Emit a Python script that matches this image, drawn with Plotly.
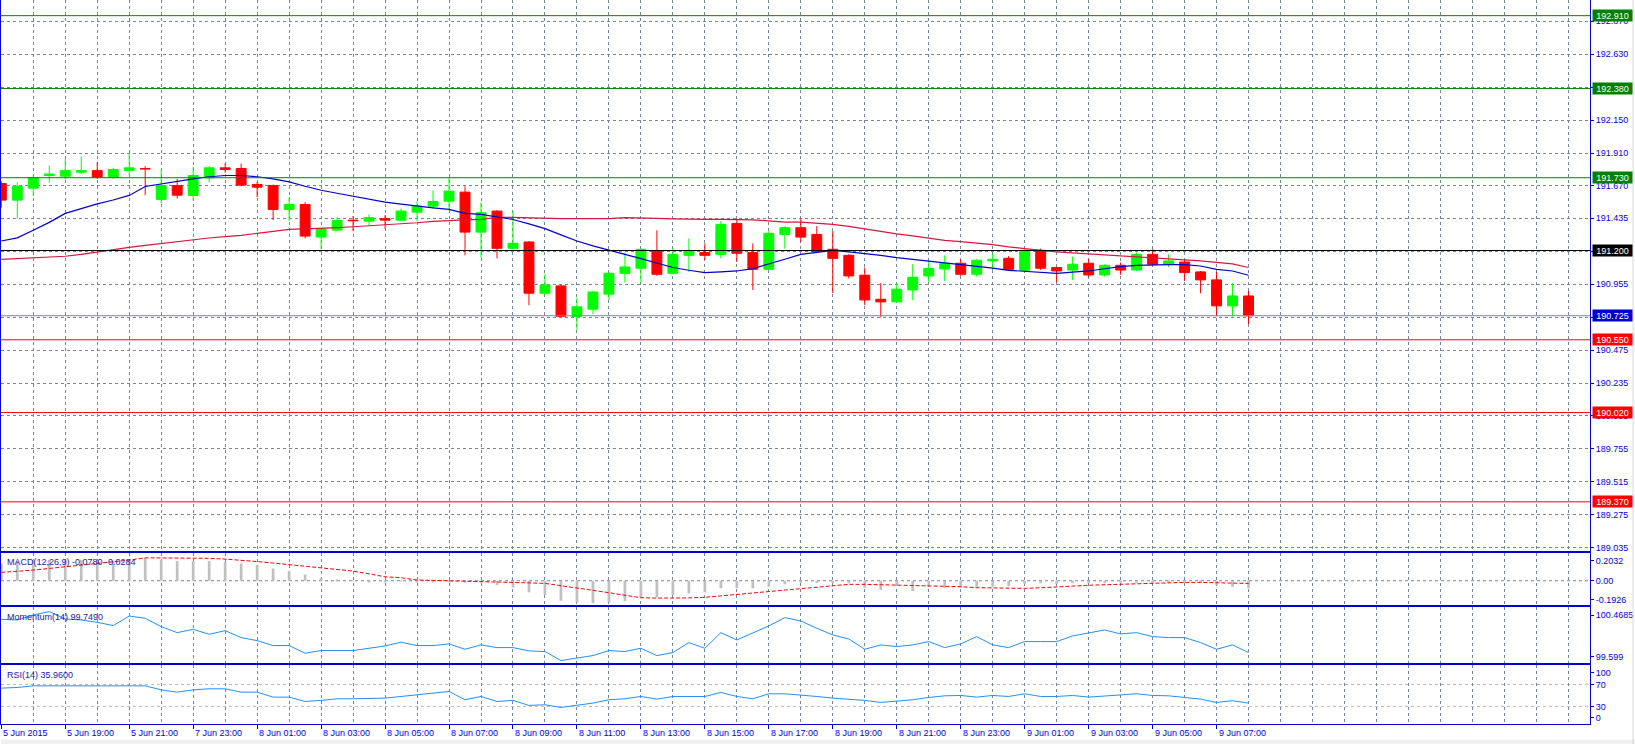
import plotly.graph_objects as go

# ---------------- data ----------------
opens = [191.688, 191.567, 191.654, 191.746, 191.741, 191.770, 191.782, 191.734, 191.784, 191.797,
         191.572, 191.673, 191.601, 191.729, 191.802, 191.797, 191.681, 191.673, 191.499, 191.535,
         191.298, 191.349, 191.421, 191.414, 191.432, 191.421, 191.479, 191.523, 191.559, 191.625,
         191.334, 191.487, 191.216, 191.262, 190.889, 190.942, 190.720, 190.773, 190.882, 191.034,
         191.071, 191.196, 191.034, 191.165, 191.185, 191.172, 191.397, 191.185, 191.063, 191.317,
         191.366, 191.317, 191.209, 191.165, 191.020, 190.845, 190.826, 190.913, 191.015, 191.066,
         191.107, 191.027, 191.124, 191.143, 191.056, 191.201, 191.076, 191.058, 191.107, 191.022,
         191.092, 191.058, 191.172, 191.100, 191.116, 191.044, 190.986, 190.797, 190.869]
highs = [191.705, 191.697, 191.746, 191.819, 191.869, 191.886, 191.843, 191.802, 191.911, 191.814,
         191.790, 191.722, 191.809, 191.814, 191.833, 191.833, 191.700, 191.680, 191.591, 191.552,
         191.366, 191.443, 191.450, 191.463, 191.458, 191.506, 191.559, 191.637, 191.729, 191.668,
         191.548, 191.494, 191.487, 191.269, 191.032, 190.954, 190.858, 190.906, 191.042, 191.185,
         191.216, 191.347, 191.221, 191.288, 191.252, 191.414, 191.432, 191.252, 191.341, 191.376,
         191.432, 191.378, 191.341, 191.172, 191.076, 190.962, 190.962, 191.100, 191.124, 191.165,
         191.136, 191.136, 191.180, 191.160, 191.209, 191.214, 191.082, 191.156, 191.136, 191.100,
         191.112, 191.185, 191.209, 191.172, 191.136, 191.051, 191.044, 190.962, 190.906]
lows = [191.511, 191.432, 191.596, 191.693, 191.717, 191.758, 191.722, 191.722, 191.748, 191.603,
        191.543, 191.579, 191.564, 191.697, 191.766, 191.668, 191.588, 191.421, 191.414, 191.288,
        191.209, 191.341, 191.341, 191.383, 191.359, 191.414, 191.414, 191.506, 191.499, 191.165,
        191.148, 191.143, 191.209, 190.802, 190.875, 190.715, 190.623, 190.737, 190.840, 190.967,
        190.962, 191.015, 191.027, 191.044, 191.131, 191.143, 191.116, 190.913, 191.058, 191.214,
        191.262, 191.187, 190.889, 190.996, 190.802, 190.713, 190.826, 190.840, 190.969, 190.978,
        191.015, 191.010, 191.058, 191.056, 191.051, 191.058, 190.967, 190.986, 191.007, 191.010,
        191.022, 191.051, 191.092, 191.080, 190.978, 190.889, 190.720, 190.720, 190.664]
closes = [191.567, 191.668, 191.729, 191.757, 191.782, 191.782, 191.734, 191.790, 191.802, 191.793,
          191.673, 191.603, 191.746, 191.802, 191.790, 191.676, 191.661, 191.499, 191.535, 191.305,
          191.359, 191.419, 191.416, 191.439, 191.421, 191.487, 191.523, 191.557, 191.632, 191.334,
          191.475, 191.216, 191.252, 190.889, 190.949, 190.720, 190.790, 190.898, 191.034, 191.080,
          191.209, 191.027, 191.172, 191.196, 191.165, 191.390, 191.180, 191.063, 191.325, 191.366,
          191.298, 191.192, 191.143, 191.015, 190.840, 190.826, 190.918, 191.005, 191.069, 191.107,
          191.027, 191.129, 191.136, 191.063, 191.201, 191.071, 191.051, 191.100, 191.022, 191.092,
          191.058, 191.172, 191.100, 191.124, 191.039, 190.986, 190.797, 190.869, 190.725]

ma_fast = [191.269, 191.292, 191.347, 191.405, 191.470, 191.506, 191.539, 191.568, 191.601, 191.666,
           191.686, 191.705, 191.722, 191.737, 191.746, 191.746, 191.737, 191.722, 191.700, 191.668,
           191.639, 191.617, 191.596, 191.574, 191.552, 191.538, 191.523, 191.511, 191.499, 191.470,
           191.463, 191.445, 191.426, 191.394, 191.359, 191.314, 191.269, 191.234, 191.201, 191.172,
           191.141, 191.107, 191.076, 191.056, 191.039, 191.045, 191.051, 191.068, 191.100, 191.136,
           191.172, 191.187, 191.201, 191.190, 191.180, 191.165, 191.148, 191.136, 191.124, 191.112,
           191.100, 191.087, 191.071, 191.056, 191.047, 191.039, 191.034, 191.042, 191.051, 191.067,
           191.083, 191.092, 191.097, 191.097, 191.097, 191.087, 191.063, 191.051, 191.020]
ma_slow = [191.136, 191.142, 191.148, 191.152, 191.158, 191.172, 191.190, 191.209, 191.223, 191.238,
           191.252, 191.267, 191.281, 191.291, 191.301, 191.310, 191.325, 191.339, 191.354, 191.357,
           191.359, 191.366, 191.373, 191.379, 191.385, 191.394, 191.402, 191.412, 191.419, 191.423,
           191.426, 191.441, 191.441, 191.437, 191.432, 191.432, 191.432, 191.432, 191.432, 191.439,
           191.439, 191.434, 191.430, 191.426, 191.426, 191.426, 191.426, 191.423, 191.416, 191.407,
           191.407, 191.401, 191.390, 191.376, 191.357, 191.339, 191.321, 191.307, 191.291, 191.274,
           191.265, 191.256, 191.243, 191.227, 191.212, 191.201, 191.190, 191.183, 191.172, 191.165,
           191.160, 191.154, 191.148, 191.141, 191.132, 191.124, 191.114, 191.103, 191.076]

macd_hist = [0.176, 0.20, 0.21, 0.21, 0.21, 0.21, 0.206, 0.203, 0.203, 0.23,
             0.21, 0.20, 0.20, 0.20, 0.193, 0.176, 0.159, 0.125, 0.10, 0.064,
             0.03, 0.007, 0.002, -0.01, -0.017, -0.005, -0.01, -0.01, -0.01, -0.02,
             -0.01, -0.044, -0.068, -0.118, -0.146, -0.203, -0.22, -0.23, -0.22, -0.206,
             -0.179, -0.169, -0.146, -0.129, -0.118, -0.078, -0.078, -0.078, -0.061, -0.037,
             -0.02, -0.024, -0.027, -0.027, -0.071, -0.095, -0.051, -0.105, -0.061, -0.078,
             -0.071, -0.061, -0.061, -0.054, -0.034, -0.027, -0.034, -0.027, -0.027, -0.027,
             -0.02, -0.02, -0.02, -0.01, -0.01, -0.01, -0.044, -0.061, -0.078]
macd_signal = [0.085, 0.095, 0.108, 0.125, 0.142, 0.16, 0.176, 0.19, 0.21, 0.233,
               0.233, 0.233, 0.233, 0.228, 0.22, 0.21, 0.195, 0.18, 0.165, 0.15,
               0.135, 0.115, 0.098, 0.07, 0.04, 0.03, 0.007, 0.003, 0.0, -0.005,
               -0.01, -0.014, -0.017, -0.022, -0.027, -0.05, -0.071, -0.095, -0.122, -0.148,
               -0.173, -0.177, -0.179, -0.175, -0.169, -0.155, -0.139, -0.125, -0.112, -0.095,
               -0.078, -0.065, -0.051, -0.037, -0.037, -0.04, -0.043, -0.046, -0.048, -0.051,
               -0.061, -0.071, -0.075, -0.078, -0.078, -0.072, -0.066, -0.055, -0.046, -0.04,
               -0.035, -0.031, -0.027, -0.022, -0.017, -0.017, -0.02, -0.02, -0.028]
momentum = [100.379, 100.365, 100.469, 100.539, 100.386, 100.365, 100.316, 100.247, 100.448, 100.400,
            100.226, 100.100, 100.170, 100.066, 100.142, 99.996, 99.933, 99.829, 99.829, 99.669,
            99.725, 99.725, 99.725, 99.773, 99.822, 99.899, 99.829, 99.829, 99.864, 99.752,
            99.843, 99.787, 99.787, 99.718, 99.704, 99.516, 99.565, 99.620, 99.725, 99.704,
            99.773, 99.620, 99.683, 99.892, 99.773, 100.100, 99.947, 100.087, 100.240, 100.414,
            100.344, 100.191, 100.052, 99.968, 99.752, 99.843, 99.808, 99.843, 99.913, 99.787,
            99.864, 100.017, 99.843, 99.787, 99.913, 99.913, 99.913, 100.031, 100.087, 100.156,
            100.073, 100.100, 100.017, 99.996, 99.996, 99.892, 99.752, 99.843, 99.683]
rsi = [63.3, 64.5, 67.5, 67.5, 67.5, 67.5, 67.5, 67.5, 67.5, 67.5,
       60.2, 56.0, 60.2, 62.1, 62.1, 56.0, 56.0, 46.9, 46.9, 39.0,
       40.9, 43.9, 43.9, 43.9, 45.1, 48.1, 51.2, 53.0, 57.2, 42.1,
       48.1, 39.0, 40.9, 31.8, 33.0, 28.1, 31.8, 36.0, 42.1, 43.9,
       48.1, 43.3, 48.1, 48.1, 48.1, 55.4, 48.1, 43.9, 53.0, 53.0,
       51.2, 48.1, 45.1, 43.3, 40.9, 37.2, 39.0, 42.1, 46.3, 49.3,
       49.9, 46.9, 49.9, 48.1, 53.0, 48.1, 48.1, 49.9, 46.9, 49.3,
       51.2, 53.0, 49.9, 49.3, 46.3, 43.3, 37.2, 40.3, 36.0]

time_labels = ["5 Jun 2015", "5 Jun 19:00", "5 Jun 21:00", "7 Jun 23:00", "8 Jun 01:00",
               "8 Jun 03:00", "8 Jun 05:00", "8 Jun 07:00", "8 Jun 09:00", "8 Jun 11:00",
               "8 Jun 13:00", "8 Jun 15:00", "8 Jun 17:00", "8 Jun 19:00", "8 Jun 21:00",
               "8 Jun 23:00", "9 Jun 01:00", "9 Jun 03:00", "9 Jun 05:00", "9 Jun 07:00"]
label_every = 4

price_ticks = [189.035, 189.275, 189.515, 189.755, 189.995, 190.235, 190.475, 190.715, 190.955,
               191.195, 191.435, 191.670, 191.910, 192.150, 192.390, 192.630, 192.870]

# horizontal levels: (price, line colour, label box colour)
levels = [(192.910, "#008000", "#008000"), (192.380, "#008000", "#008000"),
          (191.730, "#008000", "#008000"), (191.200, "#000000", "#000000"),
          (190.725, "#7b8794", "#0000cd"), (190.550, "#ff0000", "#ff0000"),
          (190.020, "#ff0000", "#ff0000"), (189.370, "#ff0000", "#ff0000")]

# ---------------- style ----------------
W, H = 1635, 746
BLUE = "#0000d0"
TXT = "#0000e0"
GRID = "#74849a"
FONT = "Liberation Sans"
FS = 9
XD = 1590 / W


def py(px):
    return 1 - px / H


n = len(opens)
idx = list(range(n))

fig = go.Figure()

# candle wicks and bodies
for up, col in ((True, "#00ff00"), (False, "#ff0000")):
    sel = [i for i in idx if (closes[i] >= opens[i]) == up]
    wx, wy = [], []
    for i in sel:
        wx += [i, i, None]
        wy += [lows[i], highs[i], None]
    fig.add_trace(go.Scatter(x=wx, y=wy, mode="lines", line=dict(color=col, width=1),
                             xaxis="x", yaxis="y", hoverinfo="skip"))
    fig.add_trace(go.Bar(x=sel, y=[abs(closes[i] - opens[i]) for i in sel],
                         base=[min(opens[i], closes[i]) for i in sel], width=0.62,
                         marker=dict(color=col, line=dict(color=col, width=1)),
                         xaxis="x", yaxis="y", hoverinfo="skip"))

fig.add_trace(go.Scatter(x=idx, y=ma_slow, mode="lines", line=dict(color="#dc143c", width=1.2),
                         xaxis="x", yaxis="y", hoverinfo="skip"))
fig.add_trace(go.Scatter(x=idx, y=ma_fast, mode="lines", line=dict(color="#0000cd", width=1.2),
                         xaxis="x", yaxis="y", hoverinfo="skip"))

# MACD
fig.add_trace(go.Bar(x=idx, y=macd_hist, width=0.17, marker=dict(color="#c0c0c0", line=dict(width=0)),
                     xaxis="x2", yaxis="y2", hoverinfo="skip"))
fig.add_trace(go.Scatter(x=idx, y=macd_signal, mode="lines",
                         line=dict(color="#ff0000", width=1, dash="4px,2px"),
                         xaxis="x2", yaxis="y2", hoverinfo="skip"))
# Momentum
fig.add_trace(go.Scatter(x=idx, y=momentum, mode="lines", line=dict(color="#1e90ff", width=1),
                         xaxis="x3", yaxis="y3", hoverinfo="skip"))
# RSI
fig.add_trace(go.Scatter(x=idx, y=rsi, mode="lines", line=dict(color="#1e90ff", width=1),
                         xaxis="x4", yaxis="y4", hoverinfo="skip"))

xrange = [-0.3 / 16, (1590 - 0.3) / 16]
grid_vals = list(range(0, 100, 2))
lab_vals = [k * label_every for k in range(len(time_labels))]


def xax(anchor, bottom=False, mirror=True):
    d = dict(domain=[0, XD], range=xrange, anchor=anchor, showline=True, linecolor=BLUE,
             linewidth=1, mirror=mirror, zeroline=False, showticklabels=False,
             tickmode="array", tickvals=grid_vals, showgrid=True, gridcolor=GRID,
             griddash="3px,3px", gridwidth=1, ticks="")
    if anchor != "y":
        d["matches"] = "x"
    if bottom:
        d.update(tickvals=lab_vals, ticks="outside", ticklen=4, tickcolor=BLUE,
                 minor=dict(tickmode="array", tickvals=grid_vals, showgrid=True,
                            gridcolor=GRID, griddash="3px,3px", gridwidth=1, ticks=""))
    return d


def yax(anchor, dom, rng, tv, tt, grid=False):
    return dict(domain=dom, range=rng, anchor=anchor, side="right", showline=True,
                linecolor=BLUE, linewidth=1, mirror=True, zeroline=False,
                tickmode="array", tickvals=tv, ticktext=tt, ticks="outside", ticklen=3,
                tickcolor=BLUE, tickfont=dict(family=FONT, size=FS, color=TXT),
                showgrid=grid, gridcolor=GRID, griddash="3px,3px", gridwidth=1)


layout = dict(
    width=W, height=H, margin=dict(l=0, r=0, t=0, b=0),
    paper_bgcolor="white", plot_bgcolor="white", showlegend=False,
    barmode="overlay", hovermode=False,
    xaxis=xax("y", mirror=False), xaxis2=xax("y2"), xaxis3=xax("y3"),
    xaxis4=xax("y4", bottom=True),
    yaxis=yax("x", [py(552), 1], [193.0241 - 552 * 0.0072622, 193.0241],
              price_ticks, ["%.3f" % v for v in price_ticks], grid=True),
    yaxis2=yax("x2", [py(607), py(554)], [-0.251, 0.287], [-0.1926, 0, 0.2032],
               ["-0.1926", "0.00", "0.2032"]),
    yaxis3=yax("x3", [py(665), py(609)], [99.460, 100.629], [99.599, 100.4685],
               ["99.599", "100.4685"]),
    yaxis4=yax("x4", [py(726), py(667)], [-2.2, 105.1], [91.8, 70, 30, 10],
               ["100", "70", "30", "0"]),
)
fig.update_layout(**layout)

shapes = []
for price, lc, bc in levels:
    shapes.append(dict(type="line", xref="x domain", yref="y", x0=0, x1=1, y0=price, y1=price,
                       line=dict(color=lc, width=1), layer="above"))
shapes.append(dict(type="line", xref="x2 domain", yref="y2", x0=0, x1=1, y0=0, y1=0,
                   line=dict(color=GRID, width=1, dash="3px,3px"), layer="below"))
for lv in (70, 30):
    shapes.append(dict(type="line", xref="x4 domain", yref="y4", x0=0, x1=1, y0=lv, y1=lv,
                       line=dict(color="#b8b8b8", width=1, dash="3px,3px"), layer="below"))
# window frame
shapes.append(dict(type="rect", xref="paper", yref="paper", x0=0, x1=1, y0=0, y1=py(741.5),
                   fillcolor="#f0f0f0", line=dict(width=0)))
shapes.append(dict(type="line", xref="paper", yref="paper", x0=1633 / W, x1=1633 / W, y0=0, y1=1,
                   line=dict(color="#d8d8d8", width=1)))
fig.update_layout(shapes=shapes)

ann = []
for price, lc, bc in levels:
    ann.append(dict(xref="paper", yref="y", x=1591.5 / W, y=price, xanchor="left", yanchor="middle",
                    text="%.3f" % price, showarrow=False, bgcolor=bc, borderpad=1,
                    width=37, height=9, align="center",
                    font=dict(family=FONT, size=FS, color="white")))
for k, t in enumerate(time_labels):
    ann.append(dict(xref="x4", yref="paper", x=lab_vals[k], y=py(735), xanchor="left",
                    yanchor="middle", text=t, showarrow=False,
                    font=dict(family=FONT, size=FS, color=TXT)))
for t, ypx in (("MACD(12,26,9) -0.0780 -0.0284", 563.5), ("Momentum(14) 99.7490", 618.5),
               ("RSI(14) 35.9600", 677)):
    ann.append(dict(xref="paper", yref="paper", x=4 / W, y=py(ypx), xanchor="left",
                    yanchor="middle", text=t, showarrow=False,
                    font=dict(family=FONT, size=FS, color="#1a1aa8")))
fig.update_layout(annotations=ann)

fig.write_html("out.html")
